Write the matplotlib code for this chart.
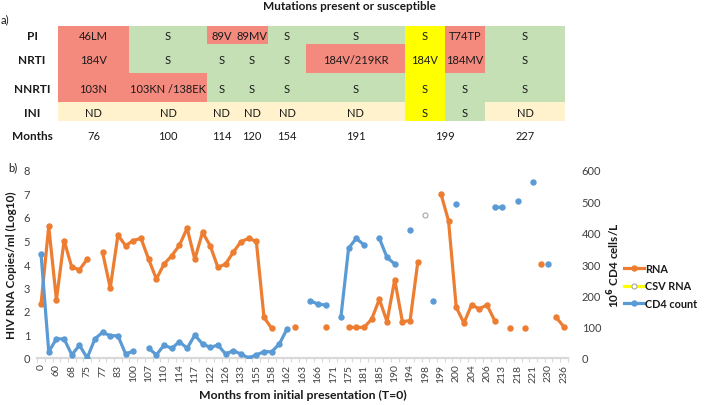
import numpy as np
import matplotlib.pyplot as plt
from matplotlib.patches import Rectangle
from matplotlib.lines import Line2D

plt.rcParams['font.family'] = ['Lato', 'DejaVu Sans']

# ---- panel a) resistance table ----
drug_classes = ['PI', 'NRTI', 'NNRTI', 'INI']
months_tested = ['76', '100', '114', '120', '154', '191', '199', '199', '227']
mutations = [
    ['46LM', 'S', '89V', '89MV', 'S', 'S', 'S', 'T74TP', 'S'],
    ['184V', 'S', 'S', 'S', 'S', '184V/219KR', '184V', '184MV', 'S'],
    ['103N', '103KN /138EK', 'S', 'S', 'S', 'S', 'S', 'S', 'S'],
    ['ND', 'ND', 'ND', 'ND', 'ND', 'ND', 'S', 'S', 'ND'],
]
status = [
    ['R', 'G', 'R', 'R', 'G', 'G', 'Y', 'R', 'G'],
    ['R', 'G', 'G', 'G', 'G', 'R', 'Y', 'R', 'G'],
    ['R', 'R', 'G', 'G', 'G', 'G', 'Y', 'G', 'G'],
    ['C', 'C', 'C', 'C', 'C', 'C', 'Y', 'G', 'C'],
]

# ---- panel b) viral load / CD4 time course (category axis) ----
month_labels = [0, 60, 68, 75, 77, 83, 100, 107, 110, 114, 117, 122, 126, 133,
                155, 158, 162, 163, 166, 171, 175, 181, 185, 190, 194, 198,
                199, 200, 204, 206, 213, 218, 221, 230, 236]
rna = [2.3, 5.6, 2.48, 5.0, 3.86, 3.76, 4.2, None, 4.5, 2.98,
       5.23, 4.78, 5.0, 5.09, 4.2, 3.36, 4.0, 4.35, 4.8, 5.52,
       4.2, 5.35, 4.78, 3.86, 4.0, 4.5, 4.95, 5.09, 4.96, 1.73,
       1.26, None, None, 1.3, None, None, None, 1.3, None, None,
       1.3, 1.3, 1.3, 1.65, 2.5, 1.55, 3.33, 1.55, 1.59, 4.07,
       None, None, 7.0, 5.84, 2.16, 1.49, 2.26, 2.09, 2.26, 1.59,
       None, 1.28, None, 1.28, None, 4.0, None, 1.73, 1.33]
cd4 = [332, 20, 61, 61, 10, 41, 0, 61, 82, 71,
       71, 13, 22, None, 31, 10, 41, 31, 52, 31,
       73, 45, 34, 41, 13, 23, 13, 0, 10, 20,
       20, 45, 93, None, None, 183, 172, 169, None, 130,
       350, 382, 361, None, 382, 321, 300, None, 410, None,
       None, 181, None, None, 492, None, None, None, None, 481,
       481, None, 500, None, 561, None, 300, None, None]
csv_index = 50
csv_rna = 6.1

W, H = 710, 406
fig = plt.figure(figsize=(W / 100, H / 100), dpi=100)

# table drawn in pixel coordinates
tab = fig.add_axes([0, 0, 1, 1])
tab.set_xlim(0, W)
tab.set_ylim(H, 0)
tab.axis('off')

col_edges = [58, 129, 207, 236, 268, 306, 405, 445, 485, 565]
row_edges = [27, 45, 74, 103, 122]
colors = {'R': '#f4897d', 'G': '#c5e0b4', 'Y': '#ffff00', 'C': '#fff2cc'}
txt_col = '#1a1a1a'
fs = 8

for r in range(len(drug_classes)):
    for c in range(len(months_tested)):
        x0, x1 = col_edges[c], col_edges[c + 1]
        y0, y1 = row_edges[r], row_edges[r + 1]
        tab.add_patch(Rectangle((x0, y0), x1 - x0, y1 - y0,
                                facecolor=colors[status[r][c]], edgecolor='none'))
        tab.text((x0 + x1) / 2, (y0 + y1) / 2 + 1, mutations[r][c],
                 ha='center', va='center', fontsize=fs, color=txt_col)
    tab.text(32, (row_edges[r] + row_edges[r + 1]) / 2 + 1, drug_classes[r],
             ha='center', va='center', fontsize=8.5, fontweight='bold', color=txt_col)

tab.text(32, 137, 'Months', ha='center', va='center', fontsize=8.5,
         fontweight='bold', color=txt_col)
done = set()
for c, m in enumerate(months_tested):
    if m in done:
        continue
    idx = [i for i, v in enumerate(months_tested) if v == m]
    xc = (col_edges[idx[0]] + col_edges[idx[-1] + 1]) / 2
    tab.text(xc, 137, m, ha='center', va='center', fontsize=fs, color=txt_col)
    done.add(m)

tab.text(349, 6, 'Mutations present or susceptible', ha='center', va='center',
         fontsize=8.5, fontweight='bold', color=txt_col)
tab.text(1, 20, 'a)', ha='left', va='center', fontsize=fs, color=txt_col)
tab.text(8, 168, 'b)', ha='left', va='center', fontsize=fs, color=txt_col)

# ---- chart ----
n = len(rna)
x = np.arange(n)
rna_arr = np.array([np.nan if v is None else v for v in rna], dtype=float)
cd4_arr = np.array([np.nan if v is None else v for v in cd4], dtype=float)
csv_arr = np.full(n, np.nan)
csv_arr[csv_index] = csv_rna

left, right = 37.2 / W, 567.7 / W
bottom, top = (H - 359) / H, (H - 171) / H
ax = fig.add_axes([left, bottom, right - left, top - bottom])
ax2 = ax.twinx()

orange = '#ed7d31'
blue = '#5b9bd5'
ax.plot(x, rna_arr, color=orange, lw=2.3, marker='o', ms=3.6,
        solid_capstyle='round', zorder=3)
ax.plot(x, csv_arr, color='#ffff00', lw=2.3, marker='o', ms=3.6,
        mfc='white', mec='#a6a6a6', mew=0.8, zorder=3)
ax2.plot(x, cd4_arr, color=blue, lw=2.3, marker='o', ms=3.6,
         solid_capstyle='round', zorder=3)

ax.set_xlim(-0.5, n - 0.5)
ax.set_ylim(0, 8)
ax2.set_ylim(0, 600)
ax.set_yticks(range(0, 9))
ax2.set_yticks(range(0, 601, 100))

ax.set_xticks(x[::2])
ax.set_xticklabels([str(m) for m in month_labels], rotation=90, fontsize=7.5,
                   color='#404040')
ax.set_xticks(np.arange(-0.5, n, 1), minor=True)
ax.tick_params(axis='x', which='major', length=0, pad=4)
ax.tick_params(axis='x', which='minor', length=3, color='#d9d9d9', width=0.8)
ax.tick_params(axis='y', length=0, labelsize=8, labelcolor='#404040', pad=5)
ax2.tick_params(axis='y', length=0, labelsize=8, labelcolor='#404040', pad=10)

for a in (ax, ax2):
    for s in ('left', 'right', 'top'):
        a.spines[s].set_visible(False)
    a.spines['bottom'].set_color('#d9d9d9')
    a.spines['bottom'].set_linewidth(1.5)

ax.set_ylabel('HIV RNA Copies/ml (Log10)', fontsize=8.5, fontweight='bold',
              color=txt_col, labelpad=5)
ax2.set_ylabel(r'10$^{\mathbf{6}}$ CD4 cells/L', fontsize=8.5, fontweight='bold',
               color=txt_col, labelpad=3)
ax.set_xlabel('Months from initial presentation (T=0)', fontsize=8.8,
              fontweight='bold', color=txt_col, labelpad=5)

handles = [
    Line2D([], [], color=orange, lw=2.3, marker='o', ms=3.6),
    Line2D([], [], color='#ffff00', lw=2.3, marker='o', ms=3.6,
           mfc='white', mec='#a6a6a6', mew=0.8),
    Line2D([], [], color=blue, lw=2.3, marker='o', ms=3.6),
]
leg = fig.legend(handles, ['RNA', 'CSV RNA', 'CD4 count'],
                 loc='center left', bbox_to_anchor=(622 / W, (H - 287) / H),
                 frameon=False, handlelength=1.8, handletextpad=0.1,
                 labelspacing=0.6, borderpad=0.2, borderaxespad=0,
                 prop={'size': 7.8, 'weight': 'bold'})
for t in leg.get_texts():
    t.set_color(txt_col)

fig.savefig('out.png', dpi=100)
